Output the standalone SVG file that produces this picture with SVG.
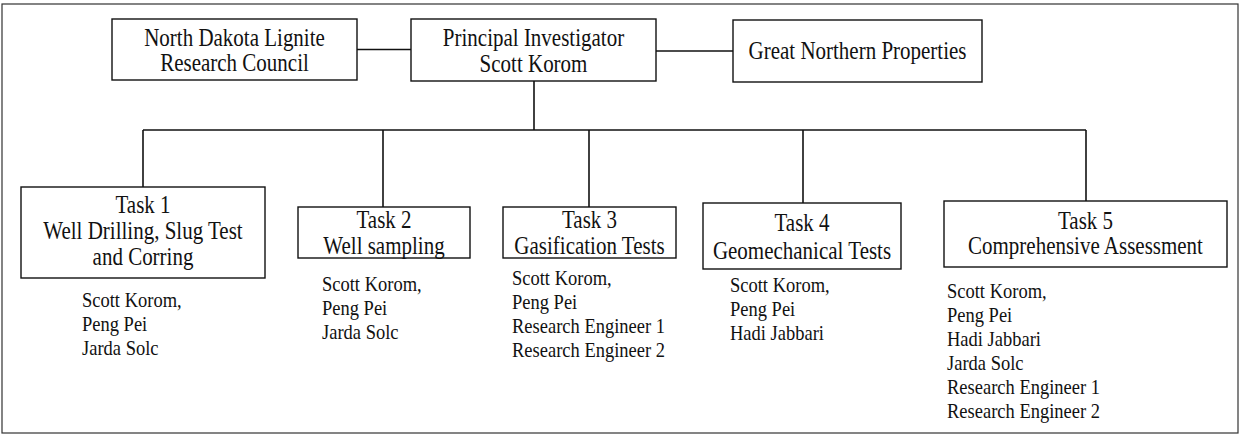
<svg xmlns="http://www.w3.org/2000/svg" width="1241" height="436" viewBox="0 0 1241 436">
<style>
.bg{fill:#ffffff}
.frame{fill:none;stroke:#333;stroke-width:1.2}
.box{fill:#ffffff;stroke:#111;stroke-width:1.4}
.conn{fill:none;stroke:#111;stroke-width:1.6}
.t{font-family:"Liberation Serif","Times New Roman",serif;font-size:21px;fill:#111;text-anchor:middle}
.n{font-family:"Liberation Serif","Times New Roman",serif;font-size:18.5px;fill:#111}
</style>
<rect class="bg" x="0" y="0" width="1241" height="436"/>
<rect class="frame" x="2" y="4" width="1236" height="429"/>
<g id="connectors">
<line class="conn" x1="357" y1="49.5" x2="411" y2="49.5"/>
<line class="conn" x1="656" y1="51" x2="733" y2="51"/>
<line class="conn" x1="534" y1="81" x2="534" y2="130"/>
<line class="conn" x1="143" y1="130" x2="1086" y2="130"/>
<line class="conn" x1="143" y1="130" x2="143" y2="187"/>
<line class="conn" x1="383" y1="130" x2="383" y2="207"/>
<line class="conn" x1="589" y1="130" x2="589" y2="207"/>
<line class="conn" x1="803" y1="130" x2="803" y2="203"/>
<line class="conn" x1="1086" y1="130" x2="1086" y2="201"/>
</g>
<g id="ndlrc">
<rect class="box" x="112" y="19" width="245" height="61"/>
<text class="t" transform="translate(234.5,46) scale(1,1.18)">North Dakota Lignite</text>
<text class="t" transform="translate(234.5,70.5) scale(1,1.18)">Research Council</text>
</g>
<g id="pi">
<rect class="box" x="411" y="19" width="245" height="62"/>
<text class="t" transform="translate(533.5,46) scale(1,1.18)">Principal Investigator</text>
<text class="t" transform="translate(533.5,71.5) scale(1,1.18)">Scott Korom</text>
</g>
<g id="gnp">
<rect class="box" x="733" y="20" width="249" height="62"/>
<text class="t" transform="translate(857.5,58.5) scale(1,1.18)">Great Northern Properties</text>
</g>
<g id="task1">
<rect class="box" x="21" y="187" width="244" height="91"/>
<text class="t" transform="translate(143,213) scale(1,1.18)">Task 1</text>
<text class="t" transform="translate(143,239) scale(1,1.18)">Well Drilling, Slug Test</text>
<text class="t" transform="translate(143,265) scale(1,1.18)">and Corring</text>
</g>
<g id="task2">
<rect class="box" x="298" y="207" width="172" height="51"/>
<text class="t" transform="translate(384,228) scale(1,1.18)">Task 2</text>
<text class="t" transform="translate(384,254) scale(1,1.18)">Well sampling</text>
</g>
<g id="task3">
<rect class="box" x="503" y="207" width="173" height="51"/>
<text class="t" transform="translate(589.5,228) scale(1,1.18)">Task 3</text>
<text class="t" transform="translate(589.5,254) scale(1,1.18)">Gasification Tests</text>
</g>
<g id="task4">
<rect class="box" x="703" y="203" width="198" height="66"/>
<text class="t" transform="translate(802,231) scale(1,1.18)">Task 4</text>
<text class="t" transform="translate(802,259) scale(1,1.18)">Geomechanical Tests</text>
</g>
<g id="task5">
<rect class="box" x="944" y="201" width="283" height="66"/>
<text class="t" transform="translate(1085.5,229) scale(1,1.18)">Task 5</text>
<text class="t" transform="translate(1085.5,254) scale(1,1.18)">Comprehensive Assessment</text>
</g>
<g id="staff1">
<text class="n" transform="translate(82,307) scale(1,1.1)">Scott Korom,</text>
<text class="n" transform="translate(82,331) scale(1,1.1)">Peng Pei</text>
<text class="n" transform="translate(82,355) scale(1,1.1)">Jarda Solc</text>
</g>
<g id="staff2">
<text class="n" transform="translate(322,291) scale(1,1.1)">Scott Korom,</text>
<text class="n" transform="translate(322,315) scale(1,1.1)">Peng Pei</text>
<text class="n" transform="translate(322,339) scale(1,1.1)">Jarda Solc</text>
</g>
<g id="staff3">
<text class="n" transform="translate(512,285) scale(1,1.1)">Scott Korom,</text>
<text class="n" transform="translate(512,309) scale(1,1.1)">Peng Pei</text>
<text class="n" transform="translate(512,333) scale(1,1.1)">Research Engineer 1</text>
<text class="n" transform="translate(512,357) scale(1,1.1)">Research Engineer 2</text>
</g>
<g id="staff4">
<text class="n" transform="translate(730,292) scale(1,1.1)">Scott Korom,</text>
<text class="n" transform="translate(730,316) scale(1,1.1)">Peng Pei</text>
<text class="n" transform="translate(730,340) scale(1,1.1)">Hadi Jabbari</text>
</g>
<g id="staff5">
<text class="n" transform="translate(947,298) scale(1,1.1)">Scott Korom,</text>
<text class="n" transform="translate(947,322) scale(1,1.1)">Peng Pei</text>
<text class="n" transform="translate(947,346) scale(1,1.1)">Hadi Jabbari</text>
<text class="n" transform="translate(947,370) scale(1,1.1)">Jarda Solc</text>
<text class="n" transform="translate(947,394) scale(1,1.1)">Research Engineer 1</text>
<text class="n" transform="translate(947,418) scale(1,1.1)">Research Engineer 2</text>
</g>
</svg>
